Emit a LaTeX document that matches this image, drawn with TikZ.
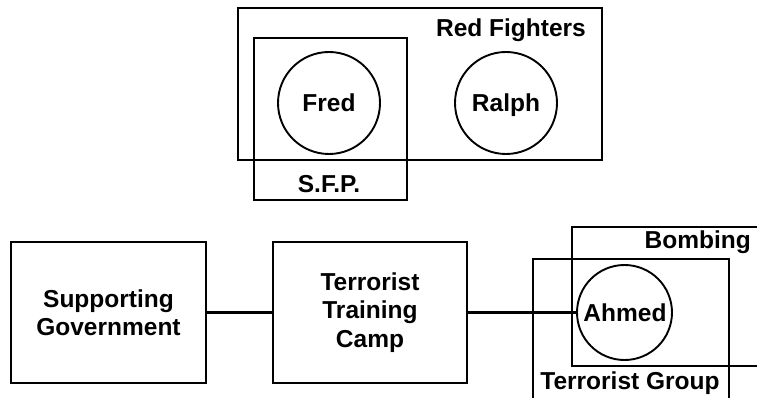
\documentclass[tikz,border=0pt]{standalone}
\usepackage{fontspec}
\setmainfont{Liberation Sans}
\begin{document}
\begin{tikzpicture}[x=1pt,y=-1pt,
  box/.style={draw, rectangle, line width=2.8pt, inner sep=0pt},
  person/.style={draw, circle, line width=1.9pt, inner sep=0pt},
  lbl/.style={inner sep=0pt, anchor=base, font=\bfseries\fontsize{24.5}{28}\selectfont},
  blocktext/.style={inner sep=0pt, align=center, font=\bfseries\fontsize{24.5}{28.5}\selectfont},
  link/.style={line width=2.2pt}]
\useasboundingbox (0,0) rectangle (757,398);
% top group
\node[box, minimum width=364pt, minimum height=152pt] (red) at (420,84) {};
\node[box, minimum width=153pt, minimum height=162pt] (sfp) at (330.5,119) {};
\node[person, minimum size=102pt] (fred) at (329,103) {};
\node[person, minimum size=102pt] (ralph) at (506,103) {};
\node[lbl] (fredt) at (329,112) {Fred};
\node[lbl] (ralpht) at (506,112) {Ralph};
\node[lbl, anchor=base east] (redt) at (586,37) {Red Fighters};
\node[lbl] (sfpt) at (329,193) {S.F.P.};
% bottom
\node[box, minimum width=195pt, minimum height=141pt] (gov) at (108.5,312.5) {};
\node[blocktext] (govt) at (108.5,312.5) {Supporting\\Government};
\node[box, minimum width=194pt, minimum height=141pt] (camp) at (370,312.5) {};
\node[blocktext] (campt) at (370,312.5) {Terrorist\\Training\\Camp};
\node[box, minimum width=208pt, minimum height=139pt] (bomb) at (676,296.5) {};
\node[box, minimum width=196pt, minimum height=161pt] (tg) at (631,339.5) {};
\node[person, minimum size=95pt] (ahmed) at (624.5,312.5) {};
\node[lbl] (ahmedt) at (625,321) {Ahmed};
\node[lbl, anchor=base east] (bombt) at (751,248) {Bombing};
\node[lbl] (tgt) at (630,389) {Terrorist Group};
\draw[link] (gov) -- (camp);
\draw[link] (camp) -- (ahmed);
\end{tikzpicture}
\end{document}
